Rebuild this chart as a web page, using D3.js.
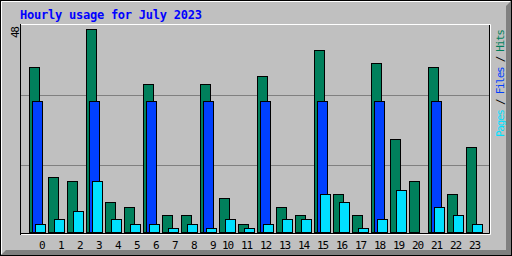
<!DOCTYPE html>
<html>
<head>
<meta charset="utf-8">
<script src="https://cdn.jsdelivr.net/npm/d3@7"></script>
<style>
  body { margin: 0; background: #fff; }
  svg { display: block; }
  text { font-family: "DejaVu Sans Mono", monospace; }
</style>
</head>
<body>
<svg width="512" height="256"></svg>
<script>
// hourly values
var hours = [0,1,2,3,4,5,6,7,8,9,10,11,12,13,14,15,16,17,18,19,20,21,22,23];
var hits  = [39,13,12,48,7,6,35,4,4,35,8,2,37,6,4,43,9,4,40,22,12,39,9,20];
var files = [31,0,0,31,0,0,31,0,0,31,0,0,31,0,0,31,0,0,31,0,0,31,0,0];
var pages = [2,3,5,12,3,2,2,1,2,1,3,1,2,3,3,9,7,1,3,10,0,6,4,2];
var maxLabel = "48";
var title = "Hourly usage for July 2023";

function main(){
    var svg = d3.select("svg");
    var grey = "#c0c0c0", dkgrey = "#808080";
    var hitColor = "#00805c", fileColor = "#0040ff", pageColor = "#00e0ff";

    // background + 3d border
    svg.append("rect").attr("x", 0).attr("y", 0).attr("width", 512).attr("height", 256).attr("fill", grey);
    svg.append("path").attr("d", "M1.5,254 L1.5,1.5 L510,1.5").attr("fill", "none").attr("stroke", "#fff");
    svg.append("polygon").attr("points", "511,1 511,255 1,255 6,250 506,250 506,6").attr("fill", dkgrey);
    svg.append("rect").attr("x", 0.5).attr("y", 0.5).attr("width", 511).attr("height", 255)
        .attr("fill", "none").attr("stroke", "#000");

    // title
    svg.append("text").attr("x", 20).attr("y", 19)
        .attr("font-size", 12).attr("font-weight", "bold").attr("fill", "#0000ff")
        .attr("textLength", title.length * 7).attr("lengthAdjust", "spacing")
        .text(title);

    var xScale = d3.scaleBand().domain(hours).range([29, 29 + 19 * hours.length]),
        yScale = d3.scaleLinear().domain([0, d3.max(hits)]).range([232.5, 29.5]);

    // grid lines, frame split in thirds
    var gridScale = d3.scaleLinear().domain([0, 3]).range([235.5, 25.5]);
    svg.selectAll(".grid").data([1, 2]).enter().append("line")
        .attr("x1", 21).attr("x2", 489)
        .attr("y1", function(d){ return gridScale(d); })
        .attr("y2", function(d){ return gridScale(d); })
        .attr("stroke", dkgrey);

    // frame
    svg.append("path").attr("d", "M20,24.5 L490.5,24.5 L490.5,234.5 L20,234.5").attr("fill", "none").attr("stroke", "#fff");
    svg.append("path").attr("d", "M21,233.5 L489.5,233.5 L489.5,25").attr("fill", "none").attr("stroke", "#000");
    svg.append("path").attr("d", "M20.5,24 L20.5,235").attr("fill", "none").attr("stroke", "#000");

    var series = [
        {vals: hits,  off: 0, color: hitColor},
        {vals: files, off: 3, color: fileColor},
        {vals: pages, off: 6, color: pageColor}
    ];

    series.forEach(function(s){
        svg.append("g").selectAll("rect")
            .data(hours.filter(function(h){ return s.vals[h] > 0; }))
            .enter().append("rect")
            .attr("x", function(h){ return xScale(h) + s.off + 0.5; })
            .attr("y", function(h){ return Math.round(yScale(s.vals[h]) - 0.5) + 0.5; })
            .attr("width", 10)
            .attr("height", function(h){ return 232.5 - (Math.round(yScale(s.vals[h]) - 0.5) + 0.5); })
            .attr("fill", s.color)
            .attr("stroke", "#000");
    });

    // hour labels
    svg.append("g").selectAll("text").data(hours).enter().append("text")
        .attr("x", function(h){ return xScale(h) + (h < 10 ? 10 : 3); })
        .attr("y", 249)
        .attr("font-size", 11).attr("fill", "#000")
        .attr("textLength", function(h){ return String(h).length * 6; })
        .attr("lengthAdjust", "spacing")
        .text(function(h){ return h; });

    // max label
    svg.append("text").attr("transform", "translate(19,38) rotate(-90)")
        .attr("font-size", 11).attr("fill", "#000")
        .attr("textLength", 12).attr("lengthAdjust", "spacing")
        .text(maxLabel);

    // right legend
    var legend = svg.append("text").attr("transform", "translate(504,137) rotate(-90)")
        .attr("font-size", 11)
        .attr("textLength", 108).attr("lengthAdjust", "spacing");
    legend.append("tspan").attr("fill", pageColor).text("Pages");
    legend.append("tspan").attr("fill", "#000").text(" / ");
    legend.append("tspan").attr("fill", fileColor).text("Files");
    legend.append("tspan").attr("fill", "#000").text(" / ");
    legend.append("tspan").attr("fill", hitColor).text("Hits");
}
main();
</script>
</body>
</html>
